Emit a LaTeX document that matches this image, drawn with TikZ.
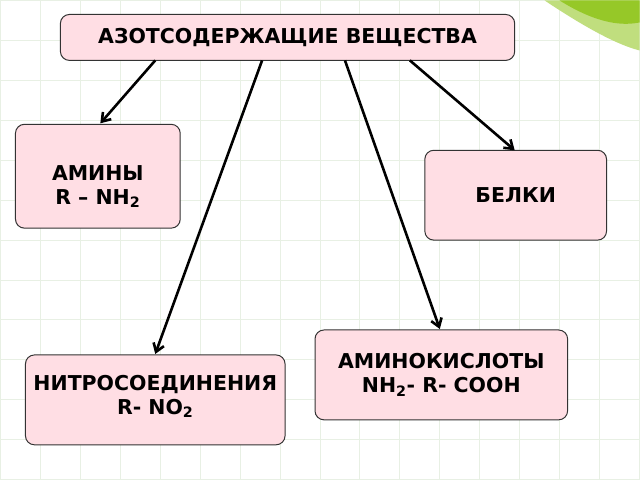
\documentclass[tikz,border=0pt]{standalone}
\usepackage{fontspec}
\setmainfont{DejaVu Sans}
\usetikzlibrary{arrows.meta}
\definecolor{boxfill}{RGB}{255,222,228}
\definecolor{gridc}{RGB}{232,240,228}
\definecolor{swoosh}{RGB}{150,200,40}
\begin{document}
\begin{tikzpicture}[x=1pt,y=-1pt,
  box/.style={draw=black!80,line width=1pt,fill=boxfill,rounded corners=9pt,align=center,font=\bfseries\fontsize{20.5}{24}\selectfont,inner sep=0pt},
  arr/.style={line width=2.6pt,-{Straight Barb[length=8pt,width=11pt]}}]
\fill[white] (0,0) rectangle (640,480);
\foreach \x in {0,40,...,640} \draw[gridc,line width=1pt] (\x,0) -- (\x,480);
\foreach \y in {0,40,...,480} \draw[gridc,line width=1pt] (0,\y) -- (640,\y);
\fill[swoosh!60] (545,0) .. controls (590,30) and (620,45) .. (640,50) -- (640,0) -- cycle;
\fill[swoosh] (560,0) .. controls (600,25) and (625,25) .. (640,22) -- (640,0) -- cycle;
\node[box,minimum width=455pt,minimum height=46pt] (top) at (287.5,37) {АЗОТСОДЕРЖАЩИЕ ВЕЩЕСТВА};
\node[box,minimum width=165pt,minimum height=104pt] (am) at (97.5,176) {\rule{0pt}{36pt}АМИНЫ\\R – NH\textsubscript{2}};
\node[box,minimum width=182pt,minimum height=90pt] (bel) at (516,195) {БЕЛКИ};
\node[box,minimum width=253pt,minimum height=90pt] (ak) at (441.5,375) {АМИНОКИСЛОТЫ\\NH\textsubscript{2}- R- COOH};
\node[box,minimum width=260pt,minimum height=90pt] (ni) at (155,400) {НИТРОСОЕДИНЕНИЯ\\R- NO\textsubscript{2}\rule[-10pt]{0pt}{1pt}};
\draw[arr] (155,60) -- (100,123);
\draw[arr] (410,60) -- (515,150);
\draw[arr] (262,60) -- (155,354);
\draw[arr] (345,60) -- (440,329);
\end{tikzpicture}
\end{document}
